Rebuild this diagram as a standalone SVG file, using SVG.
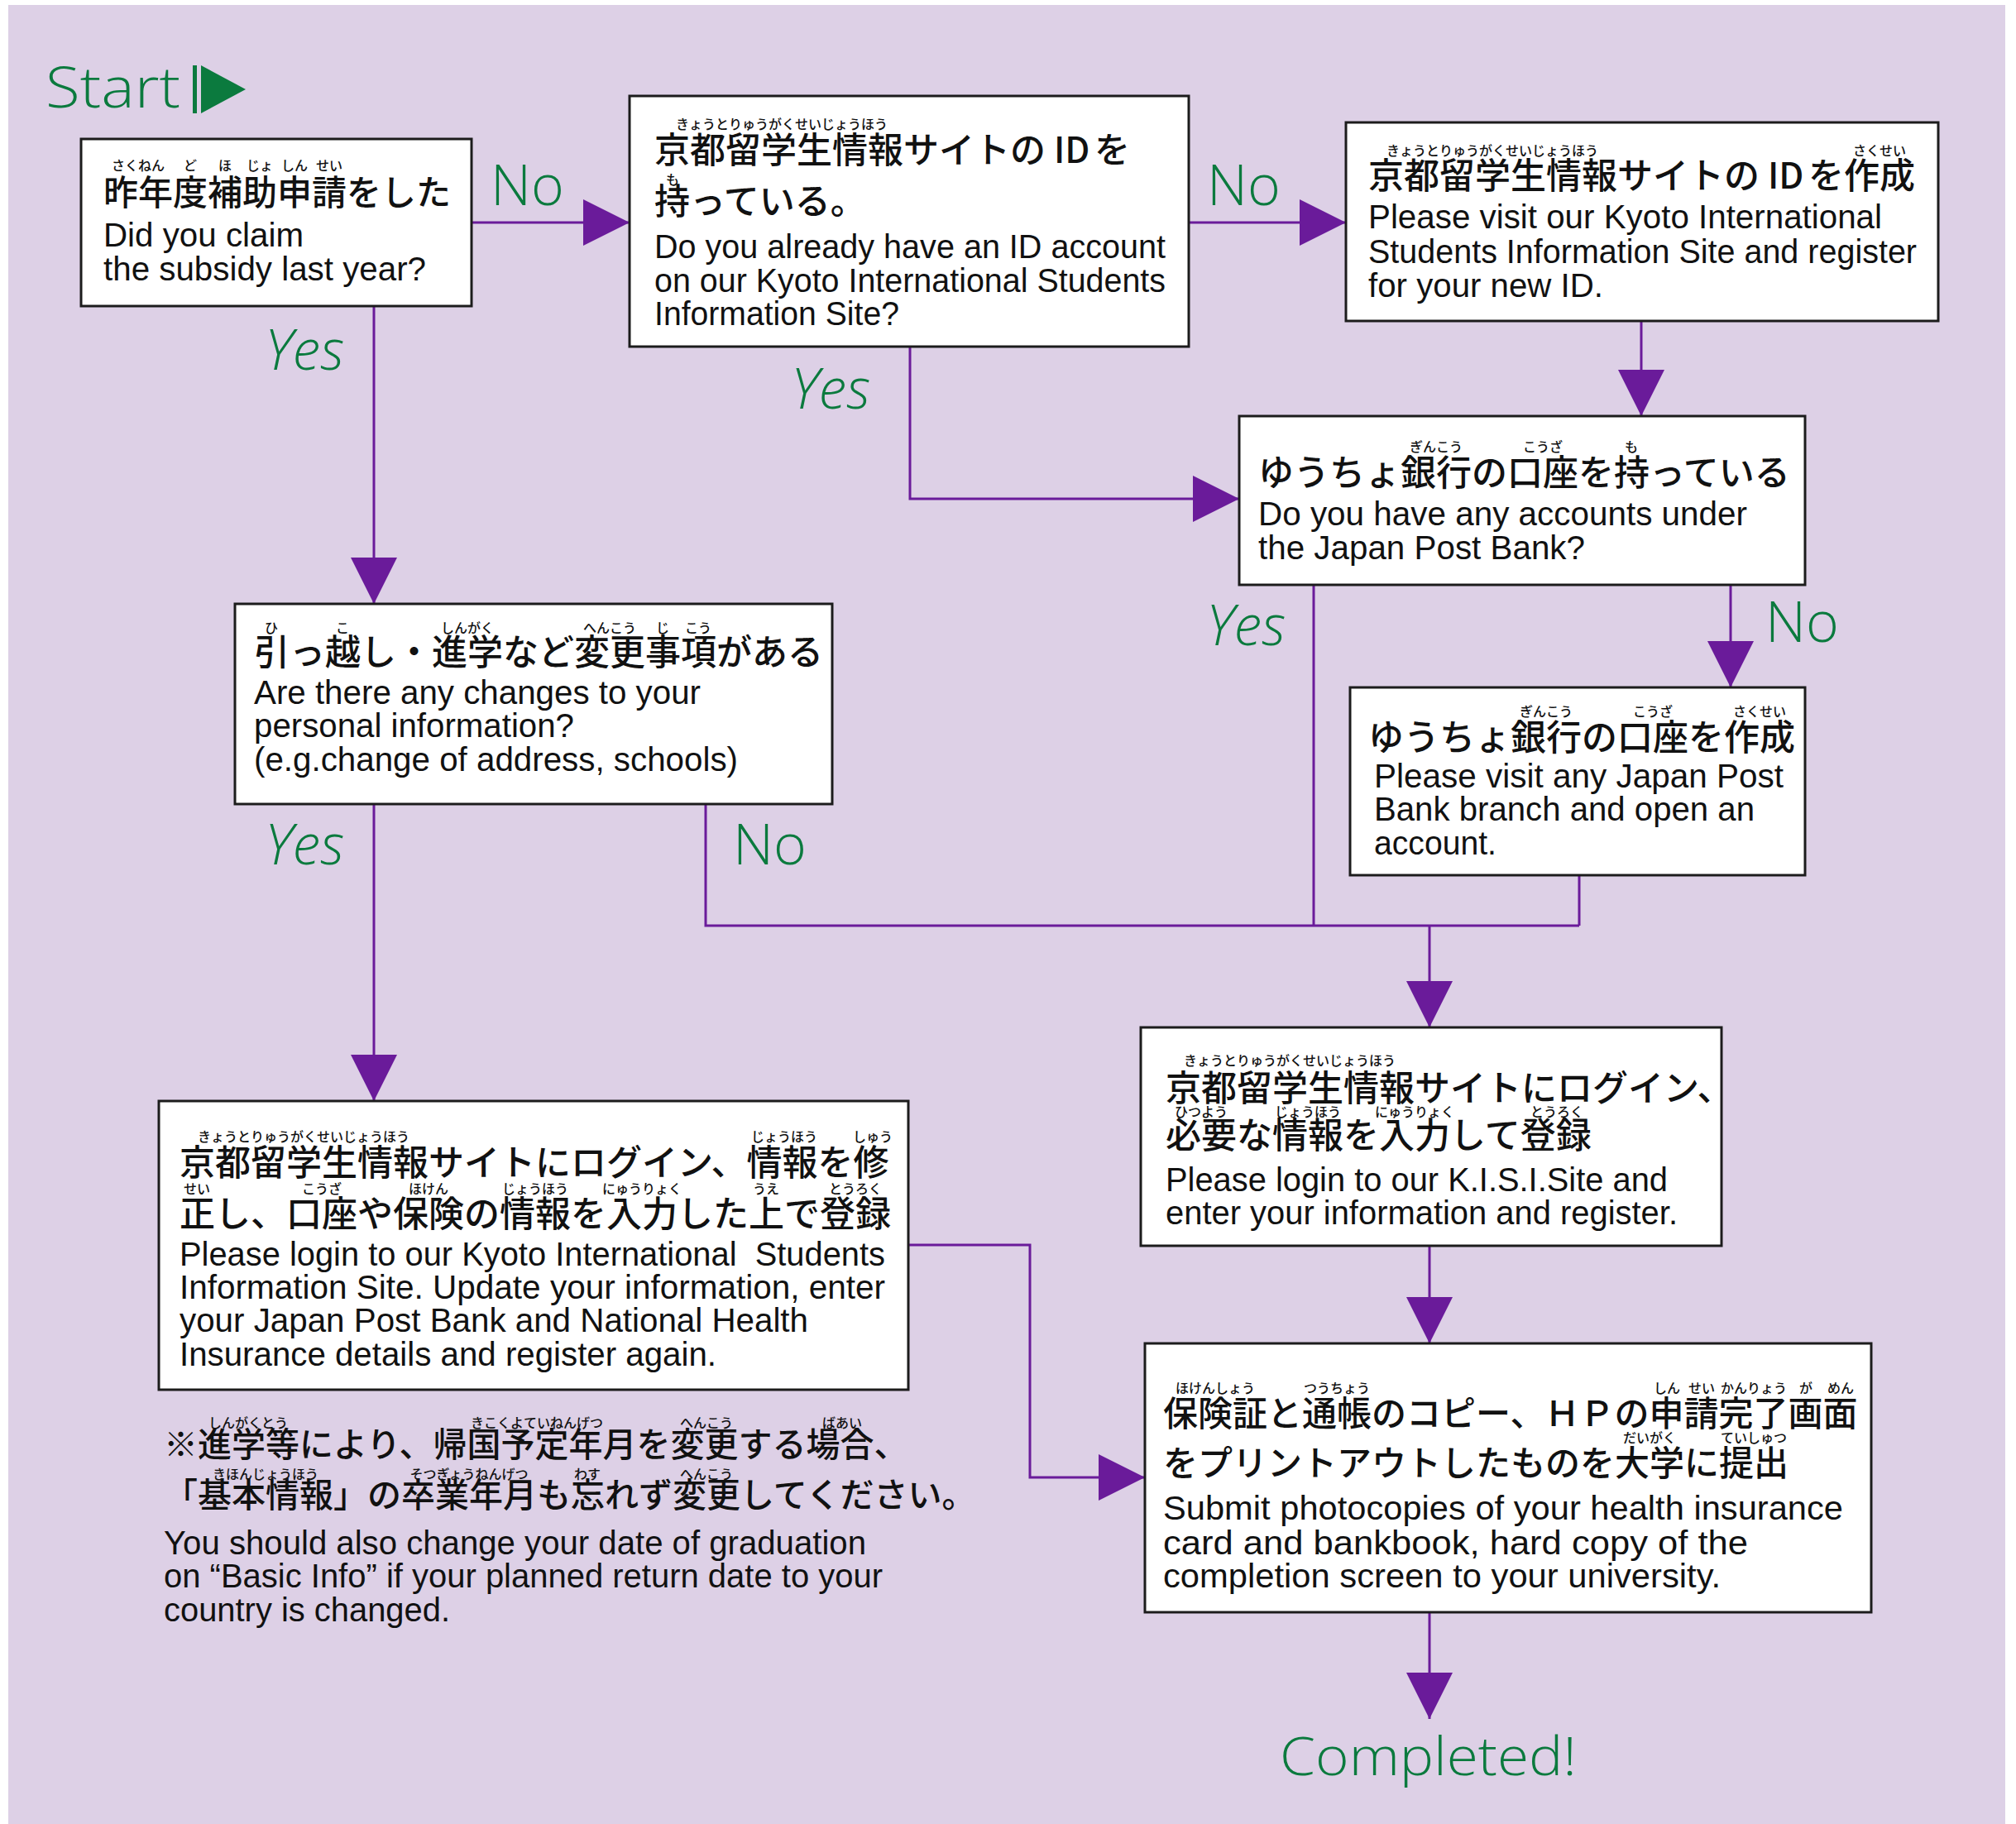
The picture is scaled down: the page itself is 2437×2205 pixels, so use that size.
<svg xmlns="http://www.w3.org/2000/svg" width="2437" height="2205" viewBox="0 0 2437 2205">
<style>
.bg{fill:#DDD0E6}
.box{fill:#ffffff;stroke:#1c1c1c;stroke-width:3}
.jp{font-family:"Noto Sans CJK JP","Noto Sans CJK SC",sans-serif;font-size:43px;font-weight:500;fill:#111}
.ru{font-family:"Noto Sans CJK JP","Noto Sans CJK SC",sans-serif;font-size:16px;font-weight:500;fill:#111;text-anchor:middle}
.en{font-family:"Liberation Sans",Arial,sans-serif;font-size:40px;fill:#111}
.lbl{font-family:"Open Sans","DejaVu Sans",sans-serif;font-size:68px;font-weight:300;fill:#0B7A3E}
.conn{fill:none;stroke:#6A1B9A;stroke-width:3}
</style>
<defs>
<marker id="ah" markerUnits="userSpaceOnUse" viewBox="0 0 56 56" markerWidth="56" markerHeight="56" refX="56" refY="28" orient="auto">
<path d="M0,0 L56,28 L0,56 Z" fill="#6A1B9A"/>
</marker>
</defs>
<rect class="bg" x="10" y="6" width="2414" height="2199"/>

<g id="start">
<text class="lbl" x="55" y="130" textLength="163" lengthAdjust="spacingAndGlyphs">Start</text>
<rect x="233" y="79" width="5" height="58" fill="#0B7A3E"/>
<polygon points="243,79 297,108 243,137" fill="#0B7A3E"/>
</g>

<g id="connectors">
<path class="conn" d="M570,269 H761" marker-end="url(#ah)"/>
<path class="conn" d="M1437,269 H1627" marker-end="url(#ah)"/>
<path class="conn" d="M1984,388 V503" marker-end="url(#ah)"/>
<path class="conn" d="M1100,419 V603 H1498" marker-end="url(#ah)"/>
<path class="conn" d="M452,370 V730" marker-end="url(#ah)"/>
<path class="conn" d="M2092,707 V831" marker-end="url(#ah)"/>
<path class="conn" d="M1588,707 V1119"/>
<path class="conn" d="M1909,1058 V1119"/>
<path class="conn" d="M853,972 V1119 H1909"/>
<path class="conn" d="M1728,1119 V1242" marker-end="url(#ah)"/>
<path class="conn" d="M452,972 V1331" marker-end="url(#ah)"/>
<path class="conn" d="M1098,1505 H1245 V1786 H1384" marker-end="url(#ah)"/>
<path class="conn" d="M1728,1506 V1624" marker-end="url(#ah)"/>
<path class="conn" d="M1728,1949 V2078" marker-end="url(#ah)"/>
</g>

<g id="labels">
<text class="lbl" x="593" y="248">No</text>
<text class="lbl" x="1459" y="248">No</text>
<text class="lbl" x="320" y="447" font-style="italic">Yes</text>
<text class="lbl" x="956" y="494" font-style="italic">Yes</text>
<text class="lbl" x="1458" y="780" font-style="italic">Yes</text>
<text class="lbl" x="2134" y="776">No</text>
<text class="lbl" x="320" y="1045" font-style="italic">Yes</text>
<text class="lbl" x="886" y="1045">No</text>
<text class="lbl" x="1547" y="2146" textLength="359" lengthAdjust="spacingAndGlyphs" style="font-size:64px">Completed!</text>
</g>

<g id="n1">
<rect class="box" x="98" y="168" width="472" height="202"/>
<text class="ru" y="206"><tspan x="167">さくねん</tspan><tspan x="230">ど</tspan><tspan x="272">ほ</tspan><tspan x="314">じょ</tspan><tspan x="356">しん</tspan><tspan x="398">せい</tspan></text>
<text class="jp" x="125" y="248" style="font-size:42px">昨年度補助申請をした</text>
<text class="en" x="125" y="298" textLength="242" lengthAdjust="spacingAndGlyphs">Did you claim</text>
<text class="en" x="125" y="339" textLength="390" lengthAdjust="spacingAndGlyphs">the subsidy last year?</text>
</g>

<g id="n2">
<rect class="box" x="761" y="116" width="676" height="303"/>
<text class="ru" x="945" y="156">きょうとりゅうがくせいじょうほう</text>
<text class="jp" x="791" y="197">京都留学生情報サイトの<tspan x="1274">ID</tspan><tspan x="1323">を</tspan></text>
<text class="ru" x="813" y="223">も</text>
<text class="jp" x="791" y="259">持っている。</text>
<text class="en" x="791" y="312" textLength="618" lengthAdjust="spacingAndGlyphs">Do you already have an ID account</text>
<text class="en" x="791" y="353" textLength="618" lengthAdjust="spacingAndGlyphs">on our Kyoto International Students</text>
<text class="en" x="791" y="393" textLength="296" lengthAdjust="spacingAndGlyphs">Information Site?</text>
</g>

<g id="n3">
<rect class="box" x="1627" y="148" width="716" height="240"/>
<text class="ru" y="188"><tspan x="1804">きょうとりゅうがくせいじょうほう</tspan><tspan x="2272">さくせい</tspan></text>
<text class="jp" x="1654" y="228">京都留学生情報サイトの<tspan x="2137">ID</tspan><tspan x="2186">を作成</tspan></text>
<text class="en" x="1654" y="276" textLength="621" lengthAdjust="spacingAndGlyphs">Please visit our Kyoto International</text>
<text class="en" x="1654" y="318" textLength="663" lengthAdjust="spacingAndGlyphs">Students Information Site and register</text>
<text class="en" x="1654" y="359" textLength="284" lengthAdjust="spacingAndGlyphs">for your new ID.</text>
</g>

<g id="n4">
<rect class="box" x="1498" y="503" width="684" height="204"/>
<text class="ru" y="546"><tspan x="1736">ぎんこう</tspan><tspan x="1865">こうざ</tspan><tspan x="1972">も</tspan></text>
<text class="jp" x="1521" y="587">ゆうちょ銀行の口座を持っている</text>
<text class="en" x="1521" y="635" textLength="591" lengthAdjust="spacingAndGlyphs">Do you have any accounts under</text>
<text class="en" x="1521" y="676" textLength="395" lengthAdjust="spacingAndGlyphs">the Japan Post Bank?</text>
</g>

<g id="n5">
<rect class="box" x="1632" y="831" width="550" height="227"/>
<text class="ru" y="866"><tspan x="1869">ぎんこう</tspan><tspan x="1998">こうざ</tspan><tspan x="2127">さくせい</tspan></text>
<text class="jp" x="1654" y="907">ゆうちょ銀行の口座を作成</text>
<text class="en" x="1661" y="952" textLength="495" lengthAdjust="spacingAndGlyphs">Please visit any Japan Post</text>
<text class="en" x="1661" y="992" textLength="460" lengthAdjust="spacingAndGlyphs">Bank branch and open an</text>
<text class="en" x="1661" y="1033" textLength="148" lengthAdjust="spacingAndGlyphs">account.</text>
</g>

<g id="n6">
<rect class="box" x="284" y="730" width="722" height="242"/>
<text class="ru" y="765"><tspan x="328">ひ</tspan><tspan x="414">こ</tspan><tspan x="565">しんがく</tspan><tspan x="737">へんこう</tspan><tspan x="801">じ</tspan><tspan x="844">こう</tspan></text>
<text class="jp" x="307" y="804">引っ越し・進学など変更事項がある</text>
<text class="en" x="307" y="851" textLength="540" lengthAdjust="spacingAndGlyphs">Are there any changes to your</text>
<text class="en" x="307" y="891" textLength="387" lengthAdjust="spacingAndGlyphs">personal information?</text>
<text class="en" x="307" y="932" textLength="585" lengthAdjust="spacingAndGlyphs">(e.g.change of address, schools)</text>
</g>

<g id="n7">
<rect class="box" x="192" y="1331" width="906" height="349"/>
<text class="ru" y="1380"><tspan x="367">きょうとりゅうがくせいじょうほう</tspan><tspan x="948">じょうほう</tspan><tspan x="1055">しゅう</tspan></text>
<text class="jp" x="217" y="1421">京都留学生情報サイトにログイン、情報を修</text>
<text class="ru" y="1443"><tspan x="238">せい</tspan><tspan x="389">こうざ</tspan><tspan x="518">ほけん</tspan><tspan x="647">じょうほう</tspan><tspan x="776">にゅうりょく</tspan><tspan x="926">うえ</tspan><tspan x="1034">とうろく</tspan></text>
<text class="jp" x="217" y="1483">正し、口座や保険の情報を入力した上で登録</text>
<text class="en" x="217" y="1530" textLength="853" lengthAdjust="spacingAndGlyphs" xml:space="preserve">Please login to our Kyoto International  Students</text>
<text class="en" x="217" y="1570" textLength="853" lengthAdjust="spacingAndGlyphs">Information Site. Update your information, enter</text>
<text class="en" x="217" y="1610" textLength="760" lengthAdjust="spacingAndGlyphs">your Japan Post Bank and National Health</text>
<text class="en" x="217" y="1651" textLength="649" lengthAdjust="spacingAndGlyphs">Insurance details and register again.</text>
</g>

<g id="n8">
<rect class="box" x="1379" y="1242" width="702" height="264"/>
<text class="ru" x="1559" y="1288">きょうとりゅうがくせいじょうほう</text>
<text class="jp" x="1409" y="1331">京都留学生情報サイトにログイン、</text>
<text class="ru" y="1350"><tspan x="1452">ひつよう</tspan><tspan x="1581">じょうほう</tspan><tspan x="1710">にゅうりょく</tspan><tspan x="1882">とうろく</tspan></text>
<text class="jp" x="1409" y="1388">必要な情報を入力して登録</text>
<text class="en" x="1409" y="1440" textLength="607" lengthAdjust="spacingAndGlyphs">Please login to our K.I.S.I.Site and</text>
<text class="en" x="1409" y="1480" textLength="619" lengthAdjust="spacingAndGlyphs">enter your information and register.</text>
</g>

<g id="n9">
<rect class="box" x="1384" y="1624" width="878" height="325"/>
<text class="ru" y="1684"><tspan x="1469">ほけんしょう</tspan><tspan x="1616">つうちょう</tspan><tspan x="2015">しん</tspan><tspan x="2057">せい</tspan><tspan x="2120">かんりょう</tspan><tspan x="2183">が</tspan><tspan x="2225">めん</tspan></text>
<text class="jp" x="1406" y="1724" style="font-size:42px">保険証と通帳のコピー、ＨＰの申請完了画面</text>
<text class="ru" y="1744"><tspan x="1994">だいがく</tspan><tspan x="2120">ていしゅつ</tspan></text>
<text class="jp" x="1406" y="1784" style="font-size:42px">をプリントアウトしたものを大学に提出</text>
<text class="en" x="1406" y="1837" textLength="822" lengthAdjust="spacingAndGlyphs">Submit photocopies of your health insurance</text>
<text class="en" x="1406" y="1879" textLength="707" lengthAdjust="spacingAndGlyphs">card and bankbook, hard copy of the</text>
<text class="en" x="1406" y="1919" textLength="674" lengthAdjust="spacingAndGlyphs">completion screen to your university.</text>
</g>

<g id="note">
<text class="ru" y="1726"><tspan x="300">しんがくとう</tspan><tspan x="649">きこくよていねんげつ</tspan><tspan x="854">へんこう</tspan><tspan x="1018">ばあい</tspan></text>
<text class="jp" x="198" y="1761" style="font-size:41px">※進学等により、帰国予定年月を変更する場合、</text>
<text class="ru" y="1788"><tspan x="321">きほんじょうほう</tspan><tspan x="567">そつぎょうねんげつ</tspan><tspan x="710">わす</tspan><tspan x="854">へんこう</tspan></text>
<text class="jp" x="198" y="1822" style="font-size:41px">「基本情報」の卒業年月も忘れず変更してください。</text>
<text class="en" x="198" y="1879" textLength="849" lengthAdjust="spacingAndGlyphs">You should also change your date of graduation</text>
<text class="en" x="198" y="1919" textLength="869" lengthAdjust="spacingAndGlyphs">on “Basic Info” if your planned return date to your</text>
<text class="en" x="198" y="1960" textLength="346" lengthAdjust="spacingAndGlyphs">country is changed.</text>
</g>
</svg>
